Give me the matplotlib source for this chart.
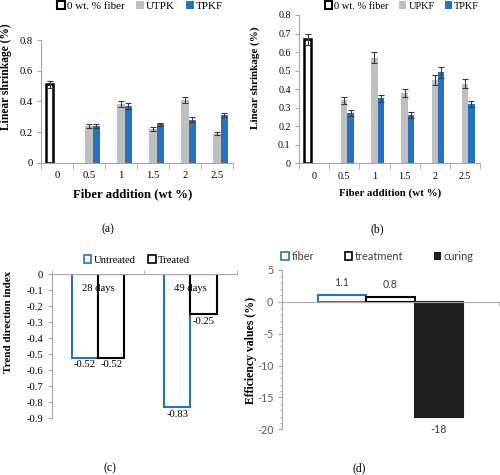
import numpy as np
import matplotlib
matplotlib.use('Agg')
import matplotlib.pyplot as plt
from matplotlib.patches import Patch
from matplotlib.ticker import FixedLocator, MultipleLocator

SERIF = 'Liberation Serif'
SANS = 'Lato'
AXC = '#a6a6a6'
BLUE = '#2672be'
GRAY = '#bfbfbf'
ERRC = '#3a3a3a'

# ---------------- data ----------------
fiber_levels = ['0', '0.5', '1', '1.5', '2', '2.5']

# panel (a)
a_labels = ['0 wt. % fiber', 'UTPK', 'TPKF']
a_control = [0.51]
a_control_err = [0.02]
a_utpk = [0.24, 0.38, 0.22, 0.41, 0.19]
a_utpk_err = [0.015, 0.02, 0.012, 0.02, 0.008]
a_tpkf = [0.24, 0.37, 0.25, 0.28, 0.31]
a_tpkf_err = [0.015, 0.02, 0.012, 0.015, 0.015]

# panel (b)
b_labels = ['0 wt. % fiber', 'UPKF', 'TPKF']
b_control = [0.67]
b_control_err = [0.03]
b_upkf = [0.34, 0.57, 0.38, 0.45, 0.43]
b_upkf_err = [0.02, 0.03, 0.02, 0.025, 0.023]
b_tpkf = [0.27, 0.35, 0.26, 0.49, 0.32]
b_tpkf_err = [0.015, 0.018, 0.015, 0.028, 0.018]

# panel (c)
c_categories = ['28 days', '49 days']
c_labels = ['Untreated', 'Treated']
c_untreated = [-0.52, -0.83]
c_treated = [-0.52, -0.25]

# panel (d)
d_labels = ['fiber', 'treatment', 'curing']
d_values = [1.1, 0.8, -18]

# ---------------- figure ----------------
W, H = 500, 475
fig = plt.figure(figsize=(W / 100, H / 100), dpi=100)


def ax_px(left, top, right, bottom):
    return fig.add_axes([left / W, 1 - bottom / H, (right - left) / W, (bottom - top) / H])


def fx(px):
    return px / W


def fy(py):
    return 1 - py / H


def style_common(ax):
    for s in ['top', 'right']:
        ax.spines[s].set_visible(False)
    for s in ['left', 'bottom']:
        ax.spines[s].set_color(AXC)
        ax.spines[s].set_linewidth(0.8)
    ax.patch.set_alpha(0)


def shrink_panel(ax, control, control_err, s1, s1_err, s2, s2_err, width, ymax, yticks,
                 labels, tick_fs, lab_fs, leg_center, ylab_pos, xlab_pos, ylab_fs):
    x = np.arange(len(fiber_levels))
    ek = dict(ecolor=ERRC, elinewidth=0.8, capsize=2.0, capthick=0.8)
    ax.bar(x[:1] - width, control, width, yerr=control_err, facecolor='white',
           edgecolor='black', linewidth=1.8, error_kw=ek, zorder=2)
    ax.bar(x[1:], s1, width, yerr=s1_err, color=GRAY, error_kw=ek, zorder=2)
    ax.bar(x[1:] + width, s2, width, yerr=s2_err, color=BLUE, error_kw=ek, zorder=2)
    ax.set_xlim(-0.5, len(fiber_levels) - 0.5)
    ax.set_ylim(0, ymax)
    style_common(ax)
    ax.set_xticks(x)
    ax.set_xticklabels(fiber_levels, fontfamily=SERIF, fontsize=tick_fs)
    ax.xaxis.set_minor_locator(FixedLocator(np.arange(-0.5, len(fiber_levels), 1.0)))
    ax.tick_params(axis='x', which='major', length=0, pad=6)
    ax.tick_params(axis='x', which='minor', length=4, color=AXC, direction='out')
    ax.set_yticks(yticks)
    ax.set_yticklabels([('%g' % v) for v in yticks], fontfamily=SERIF, fontsize=tick_fs)
    ax.tick_params(axis='y', length=3, color=AXC, direction='out', pad=3)
    ax.set_xlabel('Fiber addition (wt %)', fontfamily=SERIF, fontweight='bold', fontsize=lab_fs)
    ax.set_ylabel('Linear shrinkage (%)', fontfamily=SERIF, fontweight='bold', fontsize=ylab_fs)
    ax.yaxis.set_label_coords(fx(ylab_pos[0]), fy(ylab_pos[1]), transform=fig.transFigure)
    ax.xaxis.set_label_coords(fx(xlab_pos[0]), fy(xlab_pos[1]), transform=fig.transFigure)
    handles = [Patch(facecolor='white', edgecolor='black', linewidth=1.5),
               Patch(facecolor=GRAY), Patch(facecolor=BLUE)]
    fig.legend(handles, labels, loc='center', bbox_to_anchor=leg_center, ncol=3, frameon=False,
               prop={'family': SERIF, 'size': tick_fs + 0.3}, handlelength=0.7, handleheight=0.7,
               handletextpad=0.2, columnspacing=1.0, borderpad=0)


# panel (a)
ax_a = ax_px(41, 40, 233, 162.7)
shrink_panel(ax_a, a_control, a_control_err, a_utpk, a_utpk_err, a_tpkf, a_tpkf_err,
             0.225, 0.8, [0, 0.2, 0.4, 0.6, 0.8], a_labels, 7.7, 9.2,
             (fx(140), fy(6)), (12, 77), (133, 188), 8.3)

# panel (b)
ax_b = ax_px(299, 15, 480, 163.3)
shrink_panel(ax_b, b_control, b_control_err, b_upkf, b_upkf_err, b_tpkf, b_tpkf_err,
             0.215, 0.8, [0, 0.1, 0.2, 0.3, 0.4, 0.5, 0.6, 0.7, 0.8], b_labels, 7.2, 7.8,
             (fx(402), fy(6)), (260, 78), (390, 188), 8.0)

# panel (c)
ax_c = ax_px(51.7, 274.3, 236.7, 418.3)
xc = np.arange(len(c_categories))
wc = 0.285
bu = ax_c.bar(xc - wc / 2, c_untreated, wc, facecolor='white', edgecolor=BLUE, linewidth=1.5)
bt = ax_c.bar(xc + wc / 2, c_treated, wc, facecolor='white', edgecolor='black', linewidth=1.5)
ax_c.set_xlim(-0.5, len(c_categories) - 0.5)
ax_c.set_ylim(-0.9, 0)
style_common(ax_c)
ax_c.spines['bottom'].set_position(('data', 0))
ax_c.set_xticks(xc)
ax_c.set_xticklabels(c_categories, fontfamily=SERIF, fontsize=7.7)
ax_c.xaxis.set_minor_locator(FixedLocator(np.arange(-0.5, len(c_categories), 1.0)))
ax_c.tick_params(axis='x', which='major', length=0, pad=7)
ax_c.tick_params(axis='x', which='minor', length=3, color=AXC, direction='in')
yt = np.round(np.arange(0, -0.95, -0.1), 1)
ax_c.set_yticks(yt)
ax_c.set_yticklabels([('%g' % v) for v in yt], fontfamily=SERIF, fontsize=7.7)
ax_c.tick_params(axis='y', length=3, color=AXC, direction='out', pad=3)
ax_c.set_ylabel('Trend direction index', fontfamily=SERIF, fontweight='bold', fontsize=8.0)
ax_c.yaxis.set_label_coords(fx(13), fy(322), transform=fig.transFigure)
for bars in (bu, bt):
    ax_c.bar_label(bars, labels=[('%g' % b.get_height()) for b in bars], padding=2,
                   fontfamily=SERIF, fontsize=7.7)
fig.legend([Patch(facecolor='white', edgecolor=BLUE, linewidth=1.2),
            Patch(facecolor='white', edgecolor='black', linewidth=1.2)], c_labels,
           loc='center', bbox_to_anchor=(fx(137), fy(260)), ncol=2, frameon=False,
           prop={'family': SERIF, 'size': 7.7}, handlelength=0.7, handleheight=0.7,
           handletextpad=0.2, columnspacing=1.2, borderpad=0)

# panel (d)
ax_d = ax_px(281.7, 270, 499, 429.3)
wd = 0.223
xd = (np.arange(len(d_values)) - 1) * wd
d_faces = ['white', 'white', '#1e1e1e']
d_edges = [BLUE, 'black', '#1e1e1e']
bd = ax_d.bar(xd, d_values, wd, color=d_faces, edgecolor=d_edges, linewidth=1.5)
ax_d.set_xlim(-0.5, 0.5)
ax_d.set_ylim(-20, 5)
style_common(ax_d)
ax_d.spines['bottom'].set_position(('data', 0))
ax_d.set_xticks([])
ax_d.xaxis.set_minor_locator(FixedLocator([-0.5, 0.5]))
ax_d.tick_params(axis='x', which='minor', length=3, color=AXC, direction='out')
ax_d.set_yticks([5, 0, -5, -10, -15, -20])
ax_d.set_yticklabels(['5', '0', '-5', '-10', '-15', '-20'], fontfamily=SANS, fontsize=7.7,
                     color='#595959')
ax_d.yaxis.set_minor_locator(MultipleLocator(1))
ax_d.tick_params(axis='y', which='major', length=3, color=AXC, direction='out', pad=3)
ax_d.tick_params(axis='y', which='minor', length=1.5, color=AXC, direction='out')
ax_d.set_ylabel('Efficiency values (%)', fontfamily=SERIF, fontweight='bold', fontsize=8.5)
ax_d.yaxis.set_label_coords(fx(257), fy(350), transform=fig.transFigure)
ax_d.bar_label(bd, labels=[('%g' % v) for v in d_values], padding=5, fontfamily=SANS,
               fontsize=7.7, color='#404040')
fig.legend([Patch(facecolor='white', edgecolor=BLUE, linewidth=1.2),
            Patch(facecolor='white', edgecolor='black', linewidth=1.2),
            Patch(facecolor='#1e1e1e')], d_labels,
           loc='center', bbox_to_anchor=(fx(377.5), fy(256)), ncol=3, frameon=False,
           prop={'family': SANS, 'size': 7.9}, handlelength=0.7, handleheight=0.7,
           handletextpad=0.2, columnspacing=2.8, borderpad=0, labelcolor='#404040')

# panel captions
for txt, px, py in [('(a)', 108, 229), ('(b)', 377, 229), ('(c)', 110, 468), ('(d)', 359, 468)]:
    fig.text(fx(px), fy(py), txt, ha='center', va='center', fontfamily=SERIF, fontsize=8.5)

fig.savefig('out.png', dpi=100)
